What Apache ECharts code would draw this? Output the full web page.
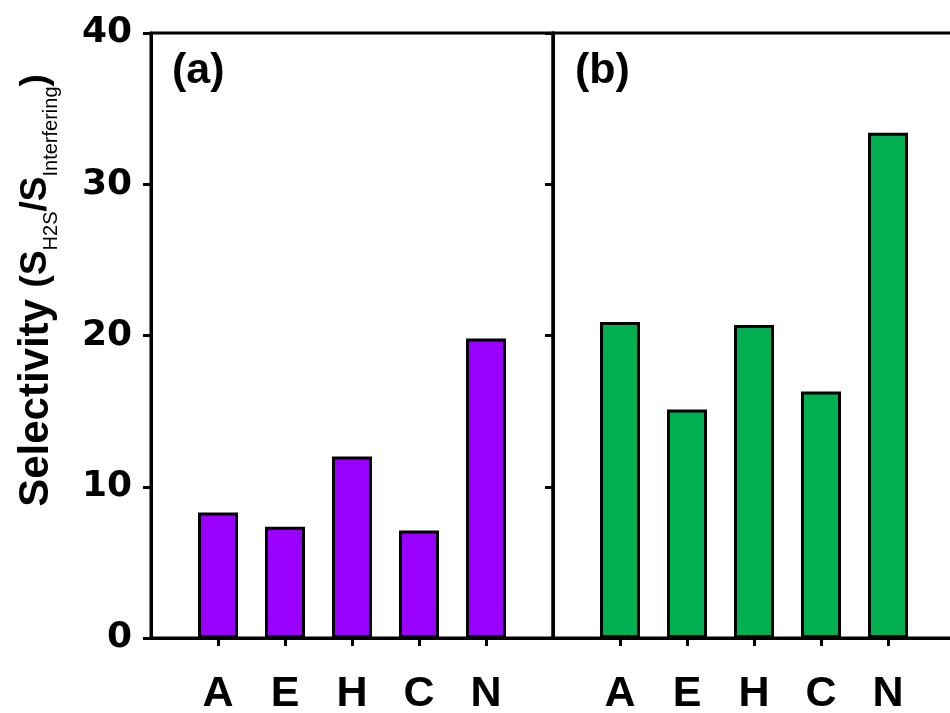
<!DOCTYPE html>
<html>
<head>
<meta charset="utf-8">
<script src="https://cdn.jsdelivr.net/npm/echarts@6/dist/echarts.min.js"></script>
<style>
html,body{margin:0;padding:0;background:#fff;}
#chart{width:950px;height:713px;}
</style>
</head>
<body>
<div id="chart"></div>
<script>
const categories = ['A', 'E', 'H', 'C', 'N'];
const valuesA = [8.3, 7.35, 12.0, 7.1, 19.8];
const valuesB = [20.9, 15.1, 20.7, 16.3, 33.4];
const yTicks = [0, 10, 20, 30, 40];
const panelLabels = ['(a)', '(b)'];

const FONT = 'Liberation Sans';
const chart = echarts.init(document.getElementById('chart'));

const toPoints = arr => arr.map((v, i) => [i + 1, v]);
const catPos = categories.map((c, i) => i + 1);

function xAxisCfg(idx) {
  return {
    type: 'value', gridIndex: idx, min: 0, max: categories.length + 1, interval: 1,
    axisLine: { show: true, lineStyle: { color: '#000', width: 3 } },
    axisTick: { show: true, customValues: catPos, length: 8, lineStyle: { color: '#000', width: 3 } },
    axisLabel: {
      customValues: catPos,
      formatter: v => categories[v - 1] || '',
      color: '#000', fontFamily: FONT, fontWeight: 'bold', fontSize: 43, margin: 35
    },
    splitLine: { show: false }
  };
}
function yAxisCfg(idx, showLabel) {
  return {
    type: 'value', gridIndex: idx, min: yTicks[0], max: yTicks[yTicks.length - 1], interval: 10,
    axisLine: { show: true, lineStyle: { color: '#000', width: 3 } },
    axisTick: { show: true, length: 8, lineStyle: { color: '#000', width: 3 } },
    axisLabel: {
      show: showLabel, color: '#000', fontFamily: 'DejaVu Sans', fontWeight: 'bold', fontSize: 36, margin: 19
    },
    splitLine: { show: false }
  };
}

const yA = yAxisCfg(0, true);
yA.name = '{m|Selectivity }{p|(S}{s|H2S}{p|/S}{s|Interfering}{p|)}';
yA.nameLocation = 'middle';
yA.nameGap = 90;
yA.nameRotate = 90;
yA.nameTextStyle = {
  color: '#000', fontFamily: FONT, padding: [0, 0, 0, 90],
  rich: {
    m: { fontSize: 42, fontWeight: 'bold', fontFamily: FONT, color: '#000', lineHeight: 50 },
    p: { fontSize: 37, fontWeight: 'bold', fontFamily: FONT, color: '#000', lineHeight: 50 },
    s: { fontSize: 20, fontWeight: 'normal', fontFamily: FONT, color: '#000', lineHeight: 12, verticalAlign: 'bottom' }
  }
};

const option = {
  animation: false,
  backgroundColor: '#fff',
  grid: [
    { left: 151, top: 33, width: 402, height: 605, outerBoundsMode: 'none', containLabel: false, show: true, borderColor: '#000', borderWidth: 3, backgroundColor: 'transparent' },
    { left: 553, top: 33, width: 402, height: 605, outerBoundsMode: 'none', containLabel: false, show: true, borderColor: '#000', borderWidth: 3, backgroundColor: 'transparent' }
  ],
  xAxis: [xAxisCfg(0), xAxisCfg(1)],
  yAxis: [yA, yAxisCfg(1, false)],
  graphic: [
    { type: 'text', left: 172, top: 50, style: { text: panelLabels[0], fill: '#000', font: 'bold 43px "Liberation Sans"', shadowColor: 'rgba(0,0,0,0.45)', shadowBlur: 5, shadowOffsetX: 3, shadowOffsetY: 3 } },
    { type: 'text', left: 575, top: 50, style: { text: panelLabels[1], fill: '#000', font: 'bold 43px "Liberation Sans"', shadowColor: 'rgba(0,0,0,0.45)', shadowBlur: 5, shadowOffsetX: 3, shadowOffsetY: 3 } }
  ],
  series: [
    { type: 'bar', xAxisIndex: 0, yAxisIndex: 0, data: toPoints(valuesA), barWidth: 40,
      itemStyle: { color: '#9900FF', borderColor: '#000', borderWidth: 3 } },
    { type: 'bar', xAxisIndex: 1, yAxisIndex: 1, data: toPoints(valuesB), barWidth: 40,
      itemStyle: { color: '#00B050', borderColor: '#000', borderWidth: 3 } }
  ]
};
chart.setOption(option);
</script>
</body>
</html>
